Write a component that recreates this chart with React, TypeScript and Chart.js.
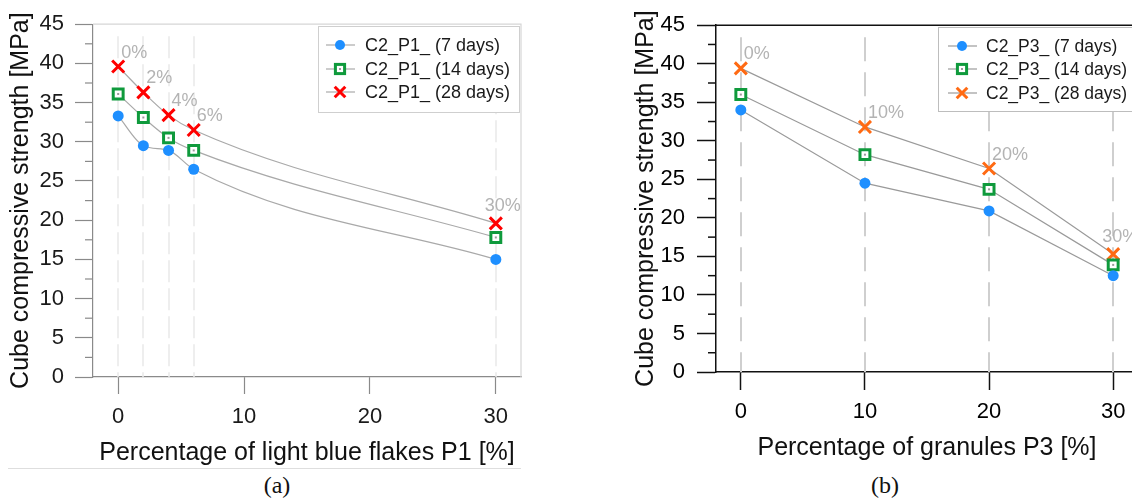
import React, { useEffect, useRef } from 'react';
import { Chart, registerables } from 'chart.js';

Chart.register(...registerables);

// ---------------- data ----------------
const p1Percent = [0, 2, 4, 6, 30];
const p1PercentLabels = ['0%', '2%', '4%', '6%', '30%'];
const p1Strength7 = [33.3, 29.5, 28.9, 26.5, 15.0];
const p1Strength14 = [36.1, 33.1, 30.5, 28.9, 17.8];
const p1Strength28 = [39.6, 36.3, 33.4, 31.5, 19.6];
const p1SeriesLabels = ['C2_P1_ (7 days)', 'C2_P1_ (14 days)', 'C2_P1_ (28 days)'];

const p3Percent = [0, 10, 20, 30];
const p3PercentLabels = ['0%', '10%', '20%', '30%'];
const p3Strength7 = [34.0, 24.5, 20.9, 12.5];
const p3Strength14 = [36.0, 28.2, 23.7, 13.9];
const p3Strength28 = [39.4, 31.8, 26.4, 15.3];
const p3SeriesLabels = ['C2_P3_ (7 days)', 'C2_P3_ (14 days)', 'C2_P3_ (28 days)'];

const xTickValues = [0, 10, 20, 30];
const xRange = [-2, 32];
const yRange = [0, 45];
const yTickStep = 5;
const yMinorStep = 2.5;

const xTitleP1 = 'Percentage of light blue flakes P1 [%]';
const xTitleP3 = 'Percentage of granules P3 [%]';
const yTitle = 'Cube compressive strength [MPa]';
const captions = ['(a)', '(b)'];

// ---------------- styles ----------------
const SANS = "'Liberation Sans', Arial, Helvetica, sans-serif";
const SERIF = "'Liberation Serif', 'Times New Roman', serif";

const markerSpecs = [
  { style: 'circle', radius: 5.5, borderWidth: 0 },
  { style: 'rect', radius: 7, borderWidth: 3 },
  { style: 'crossRot', radius: 8.5, borderWidth: 3 },
];

interface LegendSpec {
  x: number; y: number; w: number; h: number; rows: number[];
  s0: number; s1: number; m: number; t: number; font: number; border: string;
}

interface Panel {
  x: number[]; series: number[][]; names: string[]; pctLabels: string[]; xTitle: string;
  width: number; height: number; padTop: number; padRight: number; yAxisW: number; xAxisH: number;
  axisColor: string; axisWidth: number; frameColor: string; frameWidth: number; frameRight: boolean;
  tickLabelColor: string; gridColor: string; gridWidth: number; gridDash: number[];
  lineColor: string; smooth: boolean; markerColors: string[];
  xTickLen: number; xTickPad: number; xTitlePad: number;
  yTickLen: number; yTickPad: number; yTitlePad: number; minorLen: number;
  legend: LegendSpec;
}

const panelA: Panel = {
  x: p1Percent, series: [p1Strength7, p1Strength14, p1Strength28], names: p1SeriesLabels,
  pctLabels: p1PercentLabels, xTitle: xTitleP1,
  width: 540, height: 470, padTop: 18, padRight: 19, yAxisW: 93, xAxisH: 93,
  axisColor: '#8a8a8a', axisWidth: 1.2, frameColor: '#d6d6d6', frameWidth: 1.2, frameRight: true,
  tickLabelColor: '#1a1a1a', gridColor: '#e9e9e9', gridWidth: 1.5, gridDash: [22, 6],
  lineColor: '#a9a9a9', smooth: true,
  markerColors: ['#1e8fff', '#0f9a3c', '#ff0000'],
  xTickLen: 17, xTickPad: 10, xTitlePad: 2,
  yTickLen: 18, yTickPad: 11, yTitlePad: 6, minorLen: 8,
  legend: { x: 318, y: 26, w: 201, h: 86, rows: [45, 69, 92], s0: 326, s1: 355, m: 340, t: 365, font: 18, border: '#cfcfcf' },
};

const panelB: Panel = {
  x: p3Percent, series: [p3Strength7, p3Strength14, p3Strength28], names: p3SeriesLabels,
  pctLabels: p3PercentLabels, xTitle: xTitleP3,
  width: 580, height: 470, padTop: 21, padRight: 22, yAxisW: 136, xAxisH: 98,
  axisColor: '#111111', axisWidth: 1.5, frameColor: '#111111', frameWidth: 1.5, frameRight: false,
  tickLabelColor: '#000000', gridColor: '#cfcfcf', gridWidth: 2, gridDash: [24, 11],
  lineColor: '#9a9a9a', smooth: false,
  markerColors: ['#1e8fff', '#0f9a3c', '#ff6a13'],
  xTickLen: 18, xTickPad: 9, xTitlePad: 7,
  yTickLen: 19, yTickPad: 12, yTitlePad: 51, minorLen: 8,
  legend: { x: 358, y: 27, w: 212, h: 84, rows: [46, 69, 93], s0: 368, s1: 397, m: 382, t: 406, font: 17.5, border: '#bdbdbd' },
};

function drawMarker(ctx: CanvasRenderingContext2D, style: string, x: number, y: number, r: number, color: string, bw: number) {
  ctx.save();
  ctx.setLineDash([]);
  if (style === 'circle') {
    ctx.fillStyle = color;
    ctx.beginPath();
    ctx.arc(x, y, r, 0, Math.PI * 2);
    ctx.fill();
  } else if (style === 'rect') {
    const s = r * Math.SQRT1_2;
    ctx.fillStyle = '#ffffff';
    ctx.strokeStyle = color;
    ctx.lineWidth = bw;
    ctx.fillRect(x - s, y - s, 2 * s, 2 * s);
    ctx.strokeRect(x - s, y - s, 2 * s, 2 * s);
    ctx.fillStyle = '#9a9a9a';
    ctx.fillRect(x - 1, y - 1, 2, 2);
  } else {
    const o = r * Math.SQRT1_2;
    ctx.strokeStyle = color;
    ctx.lineWidth = bw;
    ctx.beginPath();
    ctx.moveTo(x - o, y - o); ctx.lineTo(x + o, y + o);
    ctx.moveTo(x - o, y + o); ctx.lineTo(x + o, y - o);
    ctx.stroke();
  }
  ctx.restore();
}

function decorPlugin(p: Panel) {
  return {
    id: 'decor',
    beforeDatasetsDraw(chart: any) {
      const { ctx, chartArea: a, scales } = chart;
      const xs = scales.x, ys = scales.y;
      ctx.save();
      // dashed vertical guides at every tested percentage
      ctx.strokeStyle = p.gridColor;
      ctx.lineWidth = p.gridWidth;
      ctx.setLineDash(p.gridDash);
      p.x.forEach((v) => {
        const px = Math.round(xs.getPixelForValue(v));
        ctx.beginPath();
        ctx.moveTo(px, a.top + 12);
        ctx.lineTo(px, a.bottom);
        ctx.stroke();
      });
      ctx.setLineDash([]);
      // frame
      ctx.strokeStyle = p.frameColor;
      ctx.lineWidth = p.frameWidth;
      ctx.beginPath();
      ctx.moveTo(a.left, a.top);
      ctx.lineTo(a.right, a.top);
      if (p.frameRight) ctx.lineTo(a.right, a.bottom);
      ctx.stroke();
      // minor y ticks
      ctx.strokeStyle = p.axisColor;
      ctx.lineWidth = p.axisWidth;
      for (let v = yRange[0] + yMinorStep; v < yRange[1]; v += yTickStep) {
        const py = ys.getPixelForValue(v);
        ctx.beginPath();
        ctx.moveTo(a.left - p.minorLen, py);
        ctx.lineTo(a.left, py);
        ctx.stroke();
      }
      ctx.restore();
    },
    afterDatasetsDraw(chart: any) {
      const { ctx } = chart;
      ctx.save();
      // centre dots of square markers
      chart.data.datasets.forEach((ds: any, i: number) => {
        if (markerSpecs[i].style !== 'rect') return;
        chart.getDatasetMeta(i).data.forEach((el: any) => {
          ctx.fillStyle = '#9a9a9a';
          ctx.fillRect(el.x - 1, el.y - 1, 2, 2);
        });
      });
      // percentage labels above the 28-day points
      const top = chart.getDatasetMeta(chart.data.datasets.length - 1).data;
      ctx.font = `18px ${SANS}`;
      ctx.fillStyle = '#b3b3b3';
      ctx.textAlign = 'left';
      ctx.textBaseline = 'alphabetic';
      top.forEach((el: any, i: number) => {
        const last = i === top.length - 1;
        ctx.fillText(p.pctLabels[i], el.x + (last ? -11 : 3), el.y + (last ? -12 : -9));
      });
      // legend
      const L = p.legend;
      ctx.fillStyle = '#ffffff';
      ctx.fillRect(L.x, L.y, L.w, L.h);
      ctx.strokeStyle = L.border;
      ctx.lineWidth = 1;
      ctx.strokeRect(L.x + 0.5, L.y + 0.5, L.w, L.h);
      chart.data.datasets.forEach((ds: any, i: number) => {
        const y = L.rows[i];
        ctx.strokeStyle = p.lineColor;
        ctx.lineWidth = 1.2;
        ctx.beginPath();
        ctx.moveTo(L.s0, y);
        ctx.lineTo(L.s1, y);
        ctx.stroke();
        const ms = markerSpecs[i];
        drawMarker(ctx, ms.style, L.m, y, ms.style === 'circle' ? 5 : ms.style === 'rect' ? 6.5 : 7.5, p.markerColors[i], ms.borderWidth || 0);
        ctx.fillStyle = '#1a1a1a';
        ctx.font = `${L.font}px ${SANS}`;
        ctx.textAlign = 'left';
        ctx.textBaseline = 'middle';
        ctx.fillText(ds.label, L.t, y + 1);
      });
      ctx.restore();
    },
  };
}

function buildConfig(p: Panel) {
  const datasets = p.series.map((vals, i) => {
    const ms = markerSpecs[i];
    const color = p.markerColors[i];
    return {
      label: p.names[i],
      data: p.x.map((x, j) => ({ x, y: vals[j] })),
      borderColor: p.lineColor,
      borderWidth: 1.2,
      fill: false,
      tension: 0,
      cubicInterpolationMode: p.smooth ? 'monotone' : 'default',
      pointStyle: ms.style,
      pointRadius: ms.radius,
      pointBorderWidth: ms.borderWidth,
      pointBackgroundColor: ms.style === 'rect' ? '#ffffff' : color,
      pointBorderColor: color,
    };
  });
  const tickFont = { family: SANS, size: 22 };
  const titleFont = { family: SANS, size: 25 };
  return {
    type: 'line',
    data: { datasets },
    options: {
      animation: false,
      responsive: false,
      devicePixelRatio: 1,
      layout: { padding: { left: 0, top: p.padTop, right: p.padRight, bottom: 0 } },
      plugins: { legend: { display: false }, tooltip: { enabled: false } },
      scales: {
        x: {
          type: 'linear',
          min: xRange[0],
          max: xRange[1],
          afterBuildTicks: (s: any) => { s.ticks = xTickValues.map((v) => ({ value: v })); },
          afterFit: (s: any) => { s.height = p.xAxisH; },
          border: { display: true, color: p.axisColor, width: p.axisWidth },
          grid: { display: true, drawOnChartArea: false, drawTicks: true, tickLength: p.xTickLen, tickColor: p.axisColor, tickWidth: p.axisWidth },
          ticks: { font: tickFont, color: p.tickLabelColor, padding: p.xTickPad, maxRotation: 0, autoSkip: false, callback: (v: any) => String(v) },
          title: { display: true, text: p.xTitle, font: titleFont, color: '#111111', padding: { top: 0, bottom: p.xTitlePad } },
        },
        y: {
          type: 'linear',
          min: yRange[0],
          max: yRange[1],
          afterFit: (s: any) => { s.width = p.yAxisW; },
          border: { display: true, color: p.axisColor, width: p.axisWidth },
          grid: { display: true, drawOnChartArea: false, drawTicks: true, tickLength: p.yTickLen, tickColor: p.axisColor, tickWidth: p.axisWidth },
          ticks: { stepSize: yTickStep, font: tickFont, color: p.tickLabelColor, padding: p.yTickPad },
          title: { display: true, text: yTitle, font: titleFont, color: '#111111', padding: { top: p.yTitlePad, bottom: 0 } },
        },
      },
    },
    plugins: [decorPlugin(p)],
  };
}

function ChartCanvas({ panel, left, top }: { panel: Panel; left: number; top: number }) {
  const ref = useRef<HTMLCanvasElement | null>(null);
  useEffect(() => {
    if (!ref.current) return;
    const chart = new Chart(ref.current, buildConfig(panel) as any);
    return () => chart.destroy();
  }, [panel]);
  return (
    <canvas
      ref={ref}
      width={panel.width}
      height={panel.height}
      style={{ position: 'absolute', left, top, width: panel.width, height: panel.height }}
    />
  );
}

export default function App() {
  return (
    <div style={{ position: 'fixed', left: 0, top: 0, width: 1132, height: 502, overflow: 'hidden', background: '#ffffff' }}>
      <ChartCanvas panel={panelA} left={0} top={0} />
      <ChartCanvas panel={panelB} left={580} top={0} />
      <div style={{ position: 'absolute', left: 8, top: 468, width: 513, height: 1, background: '#dedede' }} />
      <div style={{ position: 'absolute', left: 227, top: 472, width: 100, textAlign: 'center', font: `24px ${SERIF}`, color: '#111' }}>{captions[0]}</div>
      <div style={{ position: 'absolute', left: 835, top: 472, width: 100, textAlign: 'center', font: `24px ${SERIF}`, color: '#111' }}>{captions[1]}</div>
    </div>
  );
}
